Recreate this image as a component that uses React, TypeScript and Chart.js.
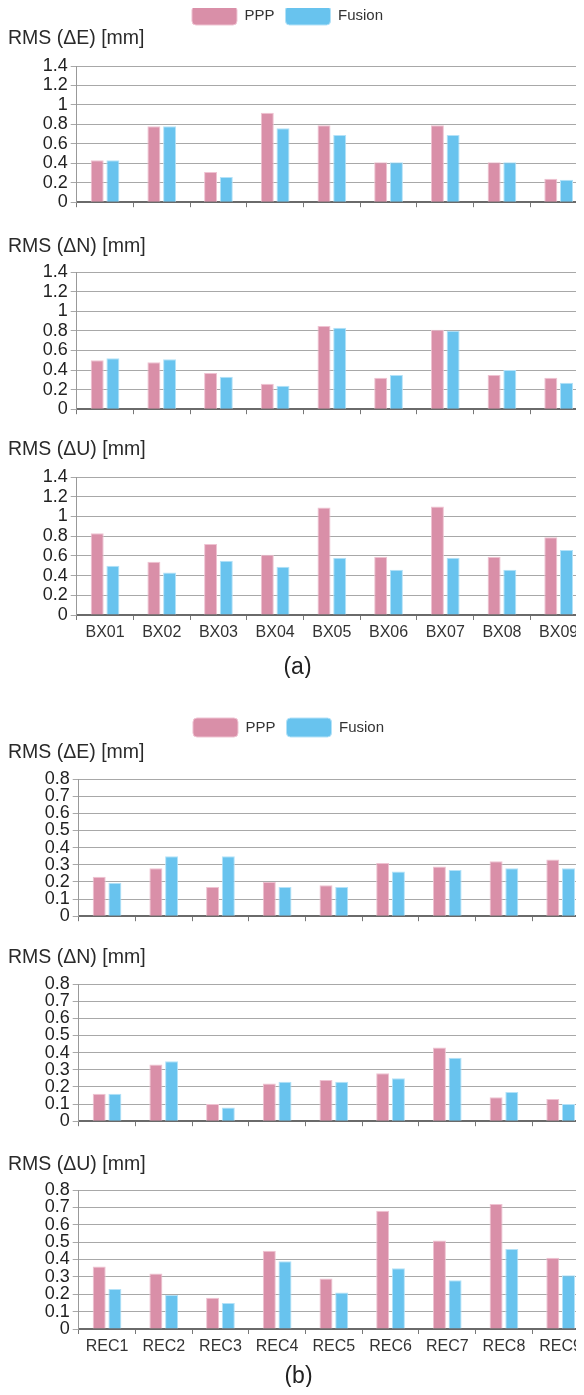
import React, { useEffect, useRef } from "react";
import { Chart, registerables } from "chart.js";

Chart.register(...registerables);

const FONT = "'Liberation Sans', Arial, Helvetica, sans-serif";
Chart.defaults.font.family = FONT;

// ---------- data ----------
const bxLabels = ["BX01", "BX02", "BX03", "BX04", "BX05", "BX06", "BX07", "BX08", "BX09"];
const recLabels = ["REC1", "REC2", "REC3", "REC4", "REC5", "REC6", "REC7", "REC8", "REC9"];

const seriesNames = ["PPP", "Fusion"];

const bxE_PPP = [0.43, 0.78, 0.31, 0.92, 0.79, 0.41, 0.79, 0.41, 0.24];
const bxE_Fusion = [0.43, 0.78, 0.26, 0.76, 0.69, 0.41, 0.69, 0.41, 0.23];
const bxN_PPP = [0.5, 0.48, 0.37, 0.26, 0.85, 0.32, 0.81, 0.35, 0.32];
const bxN_Fusion = [0.52, 0.51, 0.33, 0.24, 0.83, 0.35, 0.8, 0.4, 0.27];
const bxU_PPP = [0.83, 0.54, 0.72, 0.61, 1.09, 0.59, 1.1, 0.59, 0.79];
const bxU_Fusion = [0.5, 0.43, 0.55, 0.49, 0.58, 0.46, 0.58, 0.46, 0.66];

const recE_PPP = [0.23, 0.28, 0.17, 0.2, 0.18, 0.31, 0.29, 0.32, 0.33];
const recE_Fusion = [0.195, 0.35, 0.35, 0.17, 0.17, 0.26, 0.27, 0.28, 0.28];
const recN_PPP = [0.16, 0.33, 0.1, 0.22, 0.24, 0.28, 0.43, 0.14, 0.13];
const recN_Fusion = [0.16, 0.35, 0.08, 0.23, 0.23, 0.25, 0.37, 0.17, 0.1];
const recU_PPP = [0.36, 0.32, 0.18, 0.45, 0.29, 0.68, 0.51, 0.72, 0.41];
const recU_Fusion = [0.23, 0.195, 0.15, 0.39, 0.21, 0.35, 0.28, 0.46, 0.31];

const titleE = "RMS (ΔE) [mm]";
const titleN = "RMS (ΔN) [mm]";
const titleU = "RMS (ΔU) [mm]";

// ---------- styles ----------
const PPP_COLOR = "#D98FA8";
const PPP_BORDER = "#EFC3D2";
const FUS_COLOR = "#68C3EE";
const FUS_BORDER = "#B4E2F8";

const legendShift = {
  id: "legendShift",
  afterLayout(chart: any, _args: any, opts: any) {
    const dx = (opts && opts.dx) || 0;
    if (chart.legend && dx) {
      chart.legend.left += dx;
      chart.legend.right += dx;
    }
  },
};

type PanelProps = {
  top: number;
  height: number;
  labels: string[];
  ppp: number[];
  fusion: number[];
  title: string;
  yMax: number;
  yStep: number;
  yWidth: number;
  padRight: number;
  titlePad: { top: number; bottom: number };
  showLegend?: boolean;
  showXLabels?: boolean;
  caption?: string;
  captionPad?: { top: number; bottom: number };
};

const CANVAS_W = 581;

function Panel(p: PanelProps) {
  const ref = useRef<HTMLCanvasElement | null>(null);
  useEffect(() => {
    if (!ref.current) return;
    const chart = new Chart(ref.current, {
      type: "bar",
      data: {
        labels: p.labels,
        datasets: [
          {
            label: seriesNames[0],
            data: p.ppp,
            backgroundColor: PPP_COLOR,
            borderColor: PPP_BORDER,
            borderWidth: 1,
            categoryPercentage: 0.554,
            barPercentage: 0.828,
          },
          {
            label: seriesNames[1],
            data: p.fusion,
            backgroundColor: FUS_COLOR,
            borderColor: FUS_BORDER,
            borderWidth: 1,
            categoryPercentage: 0.554,
            barPercentage: 0.828,
          },
        ],
      },
      options: {
        responsive: false,
        animation: false,
        devicePixelRatio: 1,
        layout: { padding: { left: 0, right: p.padRight, top: 0, bottom: 0 } },
        plugins: {
          legend: {
            display: !!p.showLegend,
            position: "top",
            align: "center",
            labels: {
              boxWidth: 45,
              boxHeight: 19,
              useBorderRadius: true,
              borderRadius: 4,
              padding: 11,
              color: "#333",
              font: { size: 15, family: FONT },
            },
          },
          legendShift: { dx: -10 },
          title: {
            display: true,
            text: p.title,
            align: "start",
            weight: 500,
            color: "#2a2a2a",
            font: { size: 19.5, weight: "normal", family: FONT, lineHeight: "8px" },
            padding: p.titlePad,
          },
          subtitle: {
            display: !!p.caption,
            text: p.caption || "",
            position: "bottom",
            color: "#222",
            font: { size: 23, weight: "normal", family: FONT, lineHeight: "10px" },
            padding: p.captionPad || { top: 0, bottom: 0 },
          },
          tooltip: { enabled: false },
        },
        scales: {
          x: {
            offset: true,
            grid: {
              display: true,
              drawOnChartArea: false,
              drawTicks: true,
              tickLength: 5,
              color: "#777",
              offset: true,
            },
            border: { display: true, color: "#6a6a6a", width: 2 },
            ticks: {
              display: !!p.showXLabels,
              color: "#333",
              padding: 3,
              maxRotation: 0,
              autoSkip: false,
              font: { size: 16, family: FONT },
            },
            afterFit: (s: any) => {
              s.height = p.showXLabels ? 30 : 12;
            },
          },
          y: {
            min: 0,
            max: p.yMax,
            grid: {
              color: "#a8a8a8",
              lineWidth: 1,
              drawTicks: true,
              tickLength: 6,
            },
            border: { display: true, color: "#999", width: 1 },
            ticks: {
              stepSize: p.yStep,
              autoSkip: false,
              color: "#222",
              padding: 3,
              font: { size: 18, family: FONT },
              callback: (v: any) => String(Number(Number(v).toFixed(2))),
            },
            afterFit: (s: any) => {
              s.width = p.yWidth;
            },
          },
        },
      },
      plugins: [legendShift],
    } as any);
    return () => chart.destroy();
  }, []);

  return (
    <div
      style={{
        position: "absolute",
        left: 0,
        top: p.top - 8,
        width: CANVAS_W,
        height: p.height,
        overflow: "hidden",
      }}
    >
      <canvas
        ref={ref}
        width={CANVAS_W}
        height={p.height}
        style={{ width: CANVAS_W, height: p.height, display: "block" }}
      />
    </div>
  );
}

export default function App() {
  useEffect(() => {
    document.documentElement.style.overflow = "hidden";
  }, []);
  return (
    <div style={{ position: "relative", width: 568, height: 1379 }}>
      <Panel top={-5} height={221} labels={bxLabels} ppp={bxE_PPP} fusion={bxE_Fusion}
        title={titleE} yMax={1.4} yStep={0.2} yWidth={68.7} padRight={2}
        titlePad={{ top: 0, bottom: 23 }} showLegend />
      <Panel top={236} height={187} labels={bxLabels} ppp={bxN_PPP} fusion={bxN_Fusion}
        title={titleN} yMax={1.4} yStep={0.2} yWidth={68.7} padRight={2}
        titlePad={{ top: 7, bottom: 21 }} />
      <Panel top={438} height={240} labels={bxLabels} ppp={bxU_PPP} fusion={bxU_Fusion}
        title={titleU} yMax={1.4} yStep={0.2} yWidth={68.7} padRight={2}
        titlePad={{ top: 8, bottom: 23 }} showXLabels caption="(a)"
        captionPad={{ top: 18, bottom: 5 }} />
      <Panel top={707} height={223} labels={recLabels} ppp={recE_PPP} fusion={recE_Fusion}
        title={titleE} yMax={0.8} yStep={0.1} yWidth={70.7} padRight={0}
        titlePad={{ top: 2, bottom: 22 }} showLegend />
      <Panel top={946} height={189} labels={recLabels} ppp={recN_PPP} fusion={recN_Fusion}
        title={titleN} yMax={0.8} yStep={0.1} yWidth={70.7} padRight={0}
        titlePad={{ top: 8, bottom: 22 }} />
      <Panel top={1153} height={234} labels={recLabels} ppp={recU_PPP} fusion={recU_Fusion}
        title={titleU} yMax={0.8} yStep={0.1} yWidth={70.7} padRight={0}
        titlePad={{ top: 8, bottom: 21 }} showXLabels caption="(b)"
        captionPad={{ top: 13, bottom: 5 }} />
    </div>
  );
}
